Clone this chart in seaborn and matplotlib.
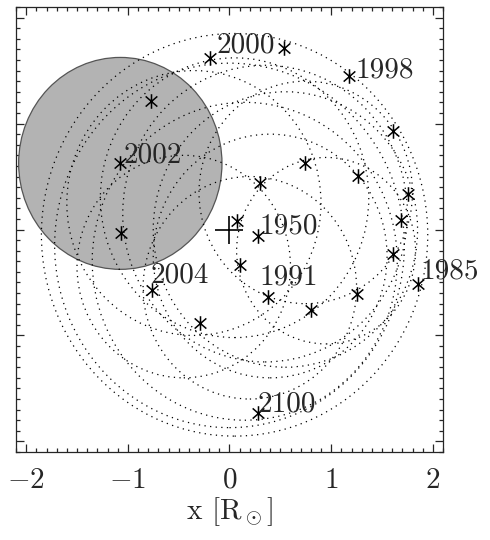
import numpy as np
import seaborn as sns
import matplotlib
matplotlib.use('Agg')
import matplotlib.pyplot as plt
from matplotlib.patches import Circle
from matplotlib.path import Path

# positions of the Sun's centre (solar radii)
star_x = [0.276, 1.852, 1.685, 1.754, 1.261, 0.739, 0.296, 0.069, 0.099, 0.374,
          0.798, 1.251, 1.606, 1.606, 1.172, 0.532, -0.187, -0.768, -1.074,
          -1.064, -0.759, -0.286, 0.276]
star_y = [-0.061, -0.512, 0.089, 0.333, 0.502, 0.624, 0.437, 0.080, -0.333, -0.634,
          -0.756, -0.606, -0.230, 0.934, 1.451, 1.714, 1.620, 1.216, 0.624,
          -0.033, -0.568, -0.878, -1.732]

# labelled years: index into the star lists
year_labels = ['1950', '1985', '1991', '1998', '2000', '2002', '2004', '2100']
year_index = [0, 1, 9, 14, 16, 18, 20, 22]
label_offset = {'1950': (1, 7), '1985': (2, 9), '1991': (-6, 14), '1998': (5, 4),
                '2000': (4, 9), '2002': (2, 6), '2004': (-1, 10), '2100': (0, 6)}

# loops of the path, read as circles (centre x, centre y, radius)
loop_x = [0.95, 0.75, 0.05, 0.05, 0.15, 0.40, 0.00, -0.45, 0.35, -0.35, 0.20, 0.55]
loop_y = [-0.20, 0.35, 0.30, -0.05, -0.30, -0.25, -0.15, -0.35, 0.15, 0.25, -0.55, 0.00]
loop_r = [0.88, 1.05, 1.32, 1.90, 1.50, 1.15, 1.72, 1.05, 1.40, 1.25, 1.05, 1.30]

sun_year = '2002'

sns.set_style('ticks')
plt.rcParams['font.family'] = ['cmr10', 'DejaVu Serif']
plt.rcParams['mathtext.fontset'] = 'cm'
plt.rcParams['axes.formatter.use_mathtext'] = True

fig = plt.figure(figsize=(4.9, 5.4), dpi=100)
ax = fig.add_axes([16/490, 88/540, 427/490, 445/540])

# the solar disk at the labelled year
k = year_index[year_labels.index(sun_year)]
ax.add_patch(Circle((star_x[k], star_y[k]), 1.0, facecolor='#b3b3b3',
                    edgecolor='#555555', lw=0.9, zorder=1))

for cx, cy, r in zip(loop_x, loop_y, loop_r):
    ax.add_patch(Circle((cx, cy), r, fill=False, edgecolor='black',
                        lw=0.9, linestyle=(0, (1, 3.5)), zorder=2))

star = Path([(0, -1), (0, 1), (-0.8, -0.7), (0.8, 0.7), (-0.8, 0.7), (0.8, -0.7)],
            [Path.MOVETO, Path.LINETO, Path.MOVETO, Path.LINETO, Path.MOVETO, Path.LINETO])
sns.scatterplot(x=star_x, y=star_y, marker=star, s=110, color='black',
                edgecolor='black', linewidth=1.1, ax=ax, zorder=4)

# barycentre
ax.plot([0], [0], marker='+', markersize=20, mew=1.2, color='black', zorder=4)

for lab, i in zip(year_labels, year_index):
    ax.annotate(lab, (star_x[i], star_y[i]), xytext=label_offset[lab],
                textcoords='offset points', fontsize=21, ha='left', va='center',
                zorder=5)

ax.set_xlim(-2.1, 2.1)
ax.set_ylim(-2.1, 2.1)
ax.set_xticks([-2, -1, 0, 1, 2])
ax.set_yticks([-2, -1, 0, 1, 2])
ax.set_xticks(np.arange(-2.1, 2.11, 0.1), minor=True)
ax.set_yticks(np.arange(-2.1, 2.11, 0.1), minor=True)
ax.set_yticklabels([])
ax.tick_params(which='both', direction='in', top=True, right=True, width=0.9)
ax.tick_params(which='major', length=6, labelsize=21, pad=11)
ax.tick_params(which='minor', length=3.2)
for s in ax.spines.values():
    s.set_linewidth(0.9)
ax.set_xlabel(r'x [R$_\odot$]', fontsize=21, labelpad=1)

fig.savefig('out.png', dpi=100)
